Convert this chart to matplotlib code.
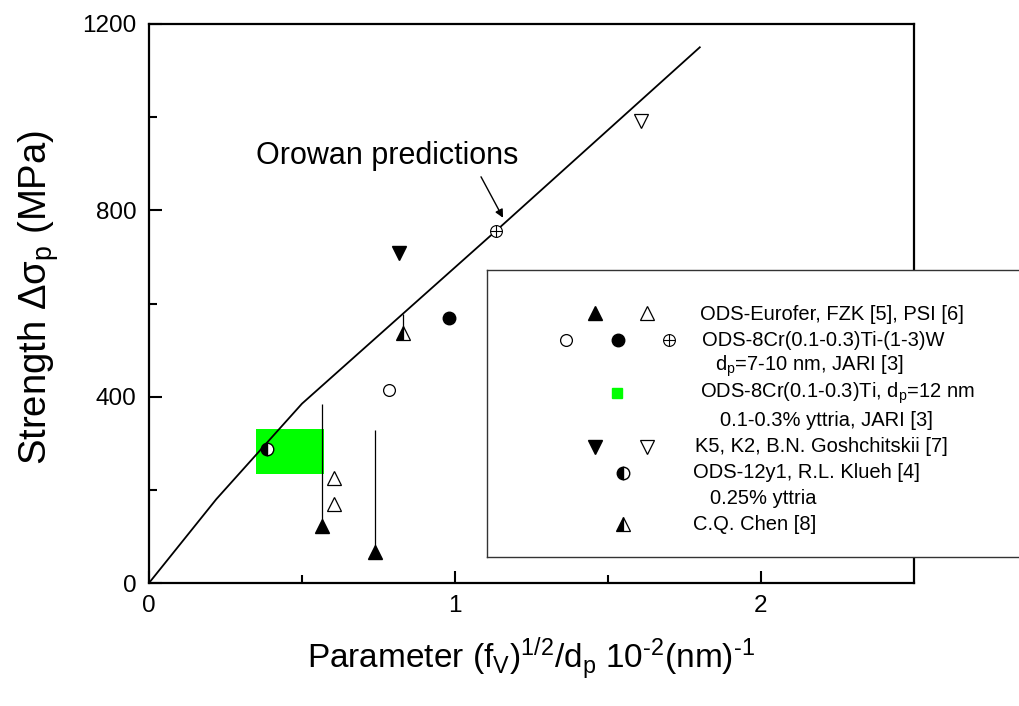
import numpy as np
import matplotlib.pyplot as plt
from matplotlib.patches import Rectangle

plt.rcParams['font.family'] = ['Liberation Sans', 'DejaVu Sans']
plt.rcParams['mathtext.fontset'] = 'custom'
plt.rcParams['mathtext.rm'] = 'Liberation Sans'
plt.rcParams['mathtext.it'] = 'Liberation Sans:italic'

# Orowan prediction curve
orowan_x = [0.0, 0.22, 0.5, 1.134, 1.8]
orowan_y = [0, 180, 385, 756, 1150]

# ODS-Eurofer, FZK (filled up triangles) with bars up to upper values
fzk_x = [0.565, 0.739]
fzk_y = [122, 67]
fzk_top = [384, 328]
# ODS-Eurofer, PSI (open up triangles)
psi_x = [0.605, 0.605]
psi_y = [225, 170]
# ODS-8Cr(0.1-0.3)Ti-(1-3)W, JARI
jari_open_x = [0.784]
jari_open_y = [414]
jari_fill_x = [0.98]
jari_fill_y = [569]
jari_pred_x = [1.134]
jari_pred_y = [756]
# K5, K2 Goshchitskii
k5_x = [0.817]
k5_y = [708]
k2_x = [1.608]
k2_y = [992]
# ODS-12y1 Klueh
klueh_x = [0.385]
klueh_y = [288]
# C.Q. Chen
chen_x = [0.83]
chen_y = [537]
chen_top = [578]
# ODS-8Cr(0.1-0.3)Ti, dp=12 nm range (green box)
box_x = [0.35, 0.572]
box_y = [234, 331]

fig = plt.figure(figsize=(10.2, 7.06), dpi=100)
ax = fig.add_axes([149/1020, 1-583/706, (914-149)/1020, (583-24)/706])

ax.add_patch(Rectangle((box_x[0], box_y[0]), box_x[1]-box_x[0], box_y[1]-box_y[0],
                       facecolor='#00ff00', edgecolor='none', zorder=1))
ax.plot(orowan_x, orowan_y, color='k', lw=1.3, zorder=2)

ax.vlines(fzk_x, fzk_y, fzk_top, color='k', lw=0.9, zorder=2)
ax.vlines(chen_x, chen_y, chen_top, color='k', lw=0.9, zorder=2)

ms = 10
ax.plot(fzk_x, fzk_y, '^', ms=ms, color='k', ls='none', zorder=3)
ax.plot(psi_x, psi_y, '^', ms=ms, mfc='w', mec='k', mew=0.9, ls='none', zorder=3)
ax.plot(jari_open_x, jari_open_y, 'o', ms=8.5, mfc='w', mec='k', mew=0.9, ls='none', zorder=3)
ax.plot(jari_fill_x, jari_fill_y, 'o', ms=9, color='k', ls='none', zorder=3)
ax.plot(jari_pred_x, jari_pred_y, 'o', ms=8.5, mfc='w', mec='k', mew=0.8, ls='none', zorder=3)
ax.plot(jari_pred_x, jari_pred_y, '+', ms=8.5, mec='k', mew=0.8, ls='none', zorder=4)
ax.plot(k5_x, k5_y, 'v', ms=ms, color='k', ls='none', zorder=3)
ax.plot(k2_x, k2_y, 'v', ms=ms, mfc='w', mec='k', mew=0.9, ls='none', zorder=3)
ax.plot(klueh_x, klueh_y, 'o', ms=9, fillstyle='left', mfc='k', mfcalt='w', mec='k',
        mew=1, ls='none', zorder=3)
ax.plot(chen_x, chen_y, '^', ms=ms, fillstyle='left', mfc='k', mfcalt='w', mec='k',
        mew=0.9, ls='none', zorder=3)

ax.text(0.78, 917, 'Orowan predictions', fontsize=22, ha='center', va='center')
ax.annotate('', xy=(1.157, 784), xytext=(1.085, 872),
            arrowprops=dict(arrowstyle='-|>', color='k', lw=1, shrinkA=0, shrinkB=0,
                            mutation_scale=12))

ax.set_xlim(0, 2.5)
ax.set_ylim(0, 1200)
ax.set_xticks([0, 1, 2])
ax.set_xticks([0.5, 1.5], minor=True)
ax.set_yticks([0, 400, 800, 1200])
ax.set_yticks([200, 600, 1000], minor=True)
ax.tick_params(which='both', direction='in', labelsize=17.5, width=1.5)
ax.tick_params(which='major', length=9, pad=9)
ax.tick_params(which='minor', length=6)
ax.tick_params(top=False, right=False, which='both')
for s in ax.spines.values():
    s.set_linewidth(1.6)

ax.set_xlabel(r'Parameter (f$_\mathregular{V}$)$^\mathregular{1/2}$/d$_\mathregular{p}$ '
              r'10$^{\text{-}\mathregular{2}}$(nm)$^{\text{-}\mathregular{1}}$', fontsize=24)
ax.xaxis.set_label_coords(0.5, -0.095)
ax.set_ylabel(r'Strength Δσ$_\mathregular{p}$ (MPa)', fontsize=27.5)
ax.yaxis.set_label_coords(-0.115, 0.51)

# legend box (drawn in pixel coordinates)
lg = fig.add_axes([487/1020, 1-557/706, (1040-487)/1020, (557-270)/706])
lg.set_xlim(487, 1040)
lg.set_ylim(557, 270)
lg.set_xticks([])
lg.set_yticks([])
for s in lg.spines.values():
    s.set_linewidth(1)
    s.set_color('#333333')

leg_text_x = [700, 702, 715, 700, 720, 695, 693, 710, 693]
leg_text_y = [315, 340, 366, 393, 421, 447, 473, 499, 524]
leg_text = ['ODS-Eurofer, FZK [5], PSI [6]',
            'ODS-8Cr(0.1-0.3)Ti-(1-3)W',
            r'd$_\mathregular{p}$=7-10 nm, JARI [3]',
            r'ODS-8Cr(0.1-0.3)Ti, d$_\mathregular{p}$=12 nm',
            '0.1-0.3% yttria, JARI [3]',
            'K5, K2, B.N. Goshchitskii [7]',
            'ODS-12y1, R.L. Klueh [4]',
            '0.25% yttria',
            'C.Q. Chen [8]']
for tx, ty, t in zip(leg_text_x, leg_text_y, leg_text):
    lg.text(tx, ty, t, fontsize=14.5, ha='left', va='center')

lg.plot([595], [313], '^', ms=ms, color='k')
lg.plot([647], [313], '^', ms=ms, mfc='w', mec='k', mew=0.9)
lg.plot([566], [340], 'o', ms=8.5, mfc='w', mec='k', mew=0.9)
lg.plot([618], [340], 'o', ms=9, color='k')
lg.plot([669], [340], 'o', ms=8.5, mfc='w', mec='k', mew=0.8)
lg.plot([669], [340], '+', ms=8.5, mec='k', mew=0.8)
lg.plot([617], [393], 's', ms=7, color='#00ff00')
lg.plot([595], [447], 'v', ms=ms, color='k')
lg.plot([647], [447], 'v', ms=ms, mfc='w', mec='k', mew=0.9)
lg.plot([623], [473], 'o', ms=9, fillstyle='left', mfc='k', mfcalt='w', mec='k', mew=1)
lg.plot([623], [524], '^', ms=ms, fillstyle='left', mfc='k', mfcalt='w', mec='k', mew=0.9)

fig.savefig('out.png', dpi=100)
